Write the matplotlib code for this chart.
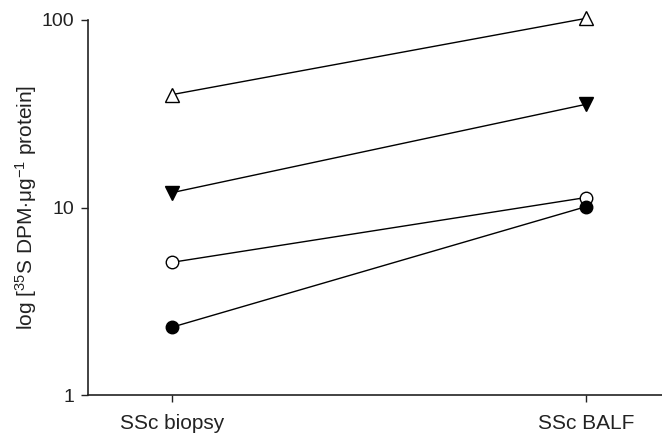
import matplotlib.pyplot as plt
from matplotlib.ticker import FixedLocator, NullLocator

plt.rcParams['font.family'] = ['Liberation Sans', 'DejaVu Sans']
plt.rcParams['mathtext.fontset'] = 'custom'
plt.rcParams['mathtext.rm'] = 'Liberation Sans'
plt.rcParams['mathtext.it'] = 'Liberation Sans'

# values (log scale)
groups = ['SSc biopsy', 'SSc BALF']
open_triangle = [40, 102]
filled_down_triangle = [12, 35.5]
open_circle = [5.1, 11.3]
filled_circle = [2.3, 10.1]

fig = plt.figure(figsize=(6.62, 4.34), dpi=100)
ax = fig.add_axes([88 / 662, 39 / 434, 574 / 662, 375 / 434])

x = [0, 1]
series = [
    (open_triangle, '^', 'white', 10),
    (filled_down_triangle, 'v', 'black', 10),
    (open_circle, 'o', 'white', 9),
    (filled_circle, 'o', 'black', 9),
]
for vals, m, fc, ms in series:
    ax.plot(x, vals, color='black', linewidth=1.0, marker=m, markersize=ms,
            markerfacecolor=fc, markeredgecolor='black', markeredgewidth=1.0,
            clip_on=False, zorder=3)

ax.set_yscale('log')
ax.set_ylim(1, 100)
ax.set_xlim(-0.203, 1.184)
ax.yaxis.set_major_locator(FixedLocator([1, 10, 100]))
ax.yaxis.set_minor_locator(NullLocator())
ax.set_yticklabels(['1', '10', '100'])
ax.set_xticks(x)
ax.set_xticklabels(groups)

for s in ['top', 'right']:
    ax.spines[s].set_visible(False)
for s in ['left', 'bottom']:
    ax.spines[s].set_linewidth(1.2)
    ax.spines[s].set_color('#222222')

ax.tick_params(axis='both', direction='out', length=5, width=1.0,
               colors='#222222')
ax.tick_params(axis='y', labelsize=14, pad=5)
ax.tick_params(axis='x', labelsize=15, pad=9)
ax.set_ylabel(r'log [$^{35}$S DPM$\cdot$μg$^{-1}$ protein]', fontsize=15,
              color='#222222', labelpad=2)

fig.savefig('out.png', dpi=100)
